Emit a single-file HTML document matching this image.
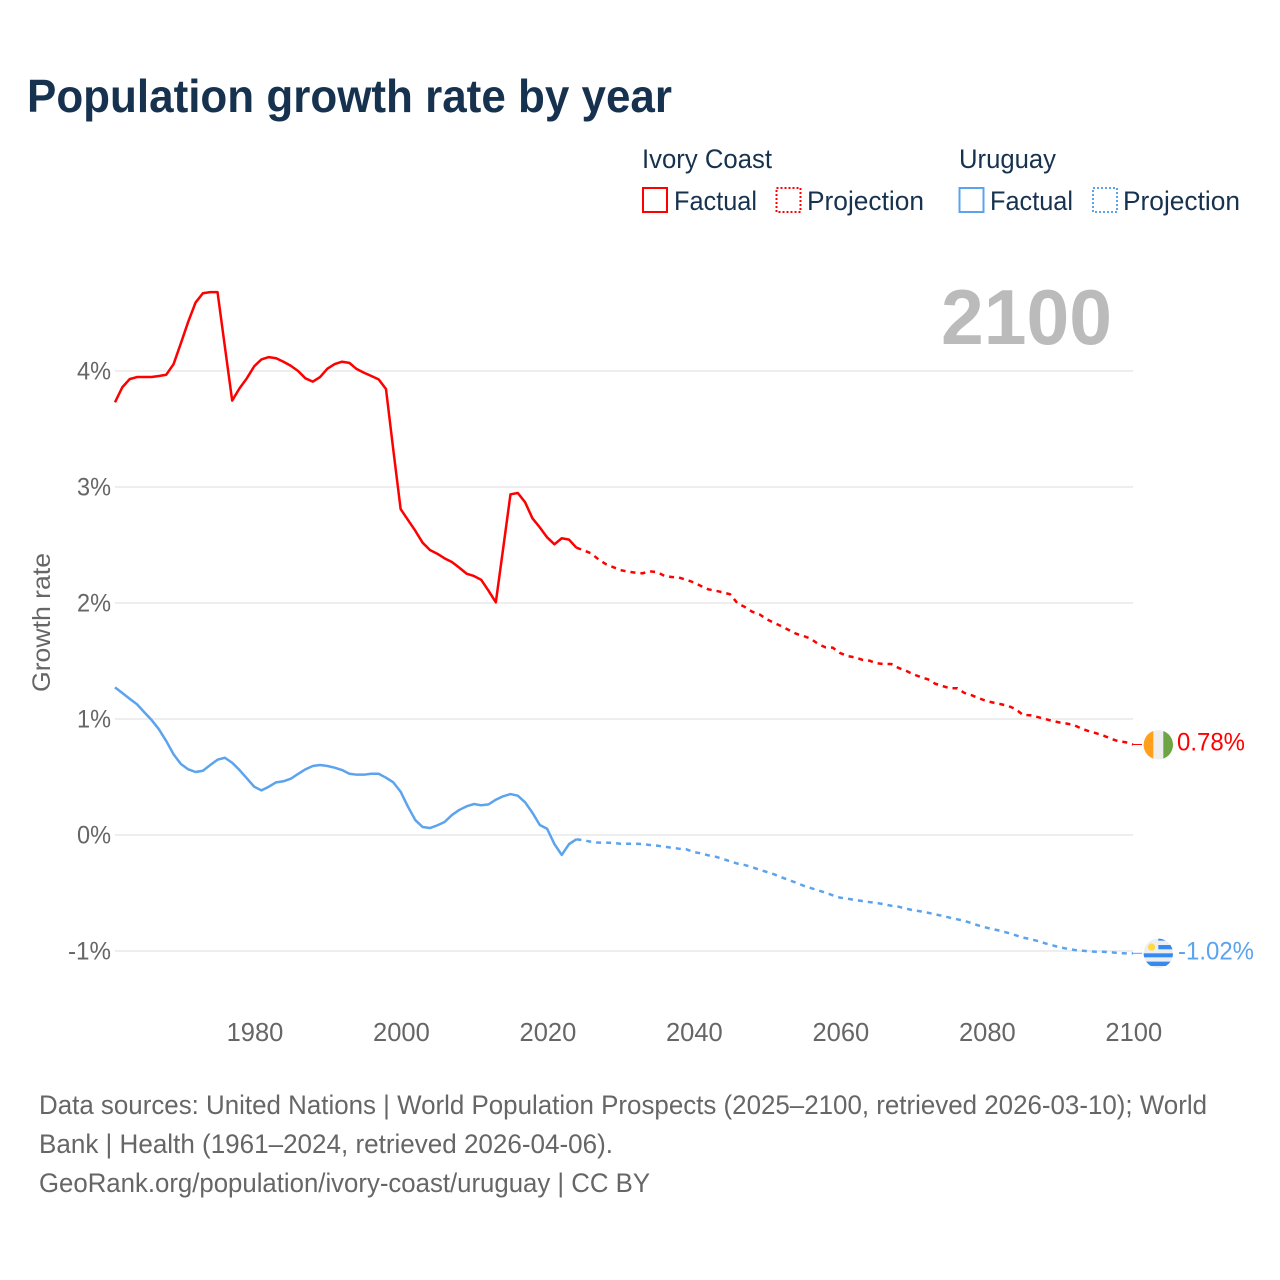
<!DOCTYPE html>
<html lang="en">
<head>
<meta charset="utf-8">
<title>Population growth rate by year</title>
<style>
html,body{margin:0;padding:0;background:#fff;}
svg{display:block;font-family:"Liberation Sans",sans-serif;}
</style>
</head>
<body>
<svg id="chart" xmlns="http://www.w3.org/2000/svg" width="1280" height="1280" viewBox="0 0 1280 1280">
  <defs>
    <clipPath id="flag-clip-a"><circle cx="1158.3" cy="744.3" r="14.7"/></clipPath>
    <clipPath id="flag-clip-b"><circle cx="1158.3" cy="953.3" r="14.7"/></clipPath>
  </defs>
  <rect width="1280" height="1280" fill="#ffffff"/>

  <text x="27" y="112" font-size="46" font-weight="bold" fill="#17324f" textLength="645" lengthAdjust="spacingAndGlyphs">Population growth rate by year</text>

  <g font-size="26.5" fill="#17324f">
    <text x="642" y="168" textLength="130" lengthAdjust="spacingAndGlyphs">Ivory Coast</text>
    <text x="959" y="168" textLength="97" lengthAdjust="spacingAndGlyphs">Uruguay</text>
    <rect x="643" y="188" width="24" height="24" fill="none" stroke="#ff0000" stroke-width="2"/>
    <text x="674" y="210" textLength="83" lengthAdjust="spacingAndGlyphs">Factual</text>
    <rect x="776.5" y="188" width="24" height="24" fill="none" stroke="#ff0000" stroke-width="2" stroke-dasharray="2,2"/>
    <text x="807" y="210" textLength="117" lengthAdjust="spacingAndGlyphs">Projection</text>
    <rect x="959.5" y="188" width="24" height="24" fill="none" stroke="#5ca3ee" stroke-width="2"/>
    <text x="990" y="210" textLength="83" lengthAdjust="spacingAndGlyphs">Factual</text>
    <rect x="1093" y="188" width="24" height="24" fill="none" stroke="#5ca3ee" stroke-width="2" stroke-dasharray="2,2"/>
    <text x="1123" y="210" textLength="117" lengthAdjust="spacingAndGlyphs">Projection</text>
  </g>

  <text x="1112" y="344" text-anchor="end" font-size="78" font-weight="bold" fill="#bbbbbb" textLength="171" lengthAdjust="spacingAndGlyphs">2100</text>

  <text transform="translate(50,622.5) rotate(-90)" text-anchor="middle" font-size="25" fill="#666666" textLength="139" lengthAdjust="spacingAndGlyphs">Growth rate</text>

  <g id="grid"></g>
  <g id="y-ticks"></g>
  <g id="x-ticks"></g>
  <g id="series"></g>

  <g id="flag-ivory" clip-path="url(#flag-clip-a)">
    <rect x="1143" y="729" width="31" height="31" fill="#eeeeee"/>
    <rect x="1143" y="729" width="10.3" height="31" fill="#ff9f1c"/>
    <rect x="1163.3" y="729" width="11" height="31" fill="#6da544"/>
  </g>
  <g id="flag-uruguay" clip-path="url(#flag-clip-b)">
    <rect x="1143" y="938" width="31" height="31" fill="#eeeeee"/>
    <rect x="1158.3" y="938" width="16" height="2.6" fill="#338af3"/>
    <rect x="1158.3" y="945" width="16" height="4.3" fill="#338af3"/>
    <rect x="1143" y="953.3" width="31" height="4" fill="#338af3"/>
    <rect x="1143" y="961.6" width="31" height="4.4" fill="#338af3"/>
    <circle cx="1151.6" cy="947" r="3.6" fill="#ffda44"/>
  </g>

  <g id="end-labels"></g>

  <g font-size="26.5" fill="#666666">
    <text x="39" y="1114" textLength="1168" lengthAdjust="spacingAndGlyphs">Data sources: United Nations | World Population Prospects (2025–2100, retrieved 2026-03-10); World</text>
    <text x="39" y="1153" textLength="574" lengthAdjust="spacingAndGlyphs">Bank | Health (1961–2024, retrieved 2026-04-06).</text>
    <text x="39" y="1192" textLength="611" lengthAdjust="spacingAndGlyphs">GeoRank.org/population/ivory-coast/uruguay | CC BY</text>
  </g>
</svg>

<script>
var xTickYears = [1980, 2000, 2020, 2040, 2060, 2080, 2100];
var yTickValues = [4, 3, 2, 1, 0, -1];
var firstYear = 1961;
var lastYear = 2100;
var lastFactualYear = 2024;

// Annual growth rate (%), 1961–2024
var ivoryFactual = [3.73,3.86,3.93,3.948,3.948,3.948,3.957,3.968,4.06,4.24,
  4.425,4.59,4.67,4.68,4.68,4.21,3.745,3.85,3.937,4.04,
  4.10,4.12,4.11,4.08,4.045,4.0,3.937,3.908,3.948,4.02,
  4.06,4.08,4.07,4.017,3.985,3.957,3.928,3.845,3.32,2.81,
  2.716,2.623,2.52,2.457,2.425,2.385,2.353,2.305,2.253,2.233,
  2.20,2.106,2.006,2.47,2.937,2.948,2.868,2.73,2.652,2.566,
  2.506,2.558,2.546,2.477];
// Annual growth rate (%), 2025–2100
var ivoryProjection = [2.454,2.428,2.377,2.336,2.31,2.284,2.27,2.262,2.256,2.273,
  2.267,2.235,2.224,2.22,2.20,2.178,2.147,2.118,2.106,2.092,
  2.075,1.997,1.966,1.925,1.902,1.86,1.828,1.80,1.767,1.735,
  1.716,1.692,1.647,1.618,1.615,1.569,1.543,1.532,1.511,1.503,
  1.48,1.474,1.474,1.44,1.416,1.385,1.362,1.342,1.304,1.284,
  1.265,1.265,1.224,1.204,1.178,1.155,1.14,1.127,1.112,1.084,
  1.034,1.032,1.017,1.0,0.983,0.97,0.96,0.946,0.917,0.894,
  0.877,0.856,0.83,0.808,0.80,0.78];
var uruguayFactual = [1.273,1.224,1.175,1.127,1.058,0.991,0.911,0.81,0.695,0.612,
  0.566,0.543,0.554,0.603,0.649,0.666,0.623,0.56,0.489,0.416,
  0.385,0.416,0.454,0.463,0.485,0.526,0.566,0.595,0.603,0.595,
  0.58,0.56,0.528,0.52,0.52,0.528,0.528,0.494,0.454,0.373,
  0.244,0.129,0.069,0.06,0.083,0.112,0.172,0.216,0.247,0.267,
  0.256,0.264,0.304,0.334,0.353,0.339,0.282,0.192,0.086,0.054,
  -0.078,-0.172,-0.078,-0.037];
var uruguayProjection = [-0.046,-0.058,-0.066,-0.066,-0.069,-0.075,-0.075,-0.075,-0.078,-0.086,
  -0.092,-0.10,-0.11,-0.118,-0.123,-0.147,-0.158,-0.175,-0.187,-0.207,
  -0.227,-0.247,-0.259,-0.278,-0.299,-0.319,-0.339,-0.365,-0.388,-0.411,
  -0.437,-0.457,-0.477,-0.497,-0.52,-0.54,-0.549,-0.56,-0.569,-0.578,
  -0.586,-0.597,-0.61,-0.618,-0.635,-0.649,-0.658,-0.67,-0.684,-0.698,
  -0.713,-0.727,-0.741,-0.761,-0.782,-0.799,-0.813,-0.828,-0.845,-0.865,
  -0.885,-0.897,-0.914,-0.934,-0.951,-0.968,-0.98,-0.991,-0.997,-1.003,
  -1.006,-1.006,-1.011,-1.017,-1.02,-1.02];

var NS = 'http://www.w3.org/2000/svg';
function xScale(year){ return 115 + (year - firstYear) * (1133 - 115) / (lastYear - firstYear); }
function yScale(v){ return 835 - v * 116; }
function make(tag, parent, attrs, text){
  var el = document.createElementNS(NS, tag);
  for (var k in attrs) el.setAttribute(k, attrs[k]);
  if (text !== undefined) el.textContent = text;
  parent.appendChild(el);
  return el;
}
function pathFrom(startYear, values){
  var d = '';
  for (var i = 0; i < values.length; i++){
    d += (i ? 'L' : 'M') + xScale(startYear + i).toFixed(2) + ' ' + yScale(values[i]).toFixed(2);
  }
  return d;
}

var grid = document.getElementById('grid');
var yTicks = document.getElementById('y-ticks');
yTickValues.forEach(function(v){
  var line = make('line', grid, {x1: xScale(firstYear), x2: xScale(lastYear), y1: yScale(v), y2: yScale(v), stroke: '#e9e9e9', 'stroke-width': 1.4});
  
  
  var label = v + '%';
  var t = make('text', yTicks, {x: 111, y: yScale(v) + 8.5, 'text-anchor': 'end', 'font-size': 25, fill: '#666666', textLength: v < 0 ? 43 : 34, lengthAdjust: 'spacingAndGlyphs'}, label);
  
  
});

var xTicks = document.getElementById('x-ticks');
xTickYears.forEach(function(year){
  var t = make('text', xTicks, {x: xScale(year) + 0.8, y: 1041, 'text-anchor': 'middle', 'font-size': 25.5, fill: '#666666'}, String(year));
  
  
});

function drawSeries(factual, projection, color){
  var series = document.getElementById('series');
  var lastFactual = factual[factual.length - 1];
  var last = projection[projection.length - 1];
  var a = make('path', series, {d: pathFrom(firstYear, factual), fill: 'none', stroke: color, 'stroke-width': 2.5, 'stroke-linejoin': 'round'});
  
  
  var b = make('path', series, {d: pathFrom(lastFactualYear, [lastFactual].concat(projection)), fill: 'none', stroke: color, 'stroke-width': 2.5, 'stroke-dasharray': '5,5'});
  
  
  var c = make('line', series, {x1: xScale(lastYear), x2: 1142, y1: yScale(last), y2: yScale(last), stroke: color, 'stroke-width': 1});
  
  
  return last;
}
var ivoryLast = drawSeries(ivoryFactual, ivoryProjection, '#ff0000');
var uruguayLast = drawSeries(uruguayFactual, uruguayProjection, '#5ca3ee');

var endLabels = document.getElementById('end-labels');
var ivoryLabel = make('text', endLabels, {x: 1177, y: yScale(ivoryLast) + 6, 'font-size': 25, fill: '#ff0000', textLength: 68, lengthAdjust: 'spacingAndGlyphs'}, ivoryLast.toFixed(2) + '%');


var uruguayLabel = make('text', endLabels, {x: 1178, y: yScale(uruguayLast) + 6, 'font-size': 25, fill: '#5ca3ee', textLength: 76, lengthAdjust: 'spacingAndGlyphs'}, uruguayLast.toFixed(2) + '%');



document.getElementById('flag-ivory').setAttribute('transform', 'translate(0,' + (yScale(ivoryLast) - 744).toFixed(2) + ')');
document.getElementById('flag-uruguay').setAttribute('transform', 'translate(0,' + (yScale(uruguayLast) - 953.3).toFixed(2) + ')');
</script>
</body>
</html>
